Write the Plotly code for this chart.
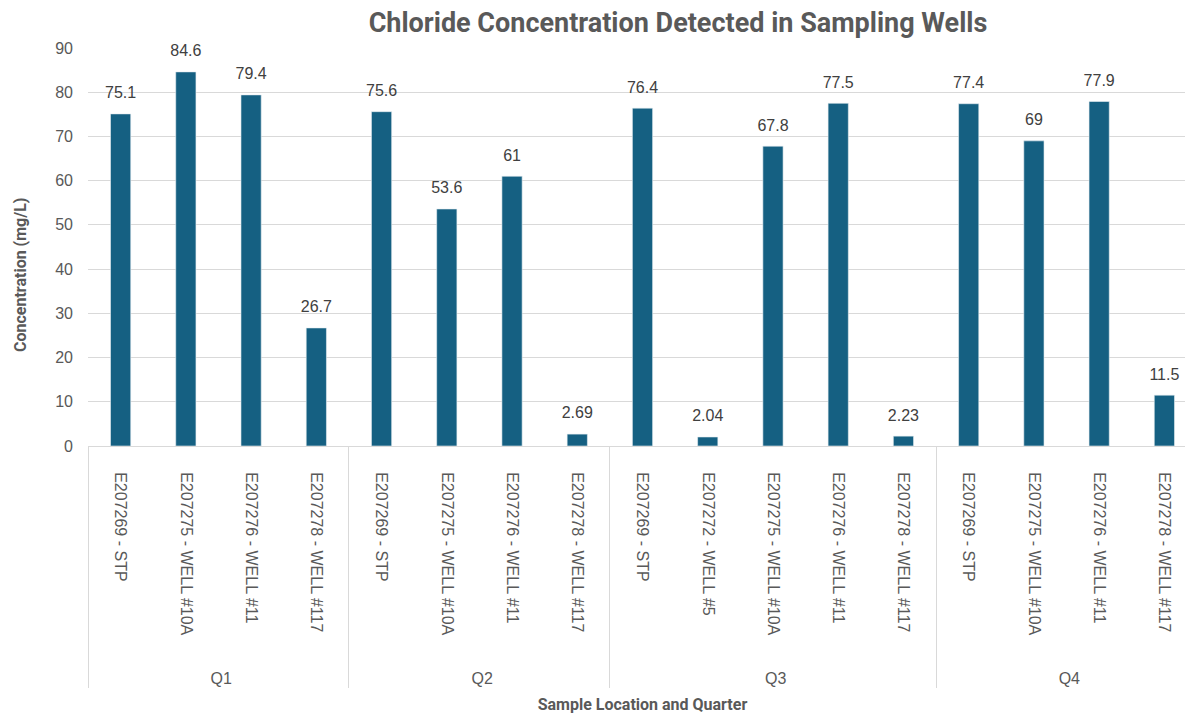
import plotly.graph_objects as go

quarters = ["Q1"] * 4 + ["Q2"] * 4 + ["Q3"] * 5 + ["Q4"] * 4
locations = [
    "E207269 - STP", "E207275 - WELL #10A", "E207276 - WELL #11", "E207278 - WELL #117",
    "E207269 - STP", "E207275 - WELL #10A", "E207276 - WELL #11", "E207278 - WELL #117",
    "E207269 - STP", "E207272 - WELL #5", "E207275 - WELL #10A", "E207276 - WELL #11", "E207278 - WELL #117",
    "E207269 - STP", "E207275 - WELL #10A", "E207276 - WELL #11", "E207278 - WELL #117",
]
values = [75.1, 84.6, 79.4, 26.7, 75.6, 53.6, 61, 2.69, 76.4, 2.04, 67.8, 77.5, 2.23, 77.4, 69, 77.9, 11.5]
labels = ["75.1", "84.6", "79.4", "26.7", "75.6", "53.6", "61", "2.69", "76.4", "2.04", "67.8", "77.5", "2.23", "77.4", "69", "77.9", "11.5"]

# Plotly orders multicategory inner labels by first appearance; feed the points
# in an order whose first appearances match the intended sequence.
order = [0, 4] + list(range(8, 13)) + [1, 2, 3, 5, 6, 7] + list(range(13, 17))
PAD = "\u00a0" * 9
xq = [quarters[i] for i in order]
xl = [locations[i] + PAD for i in order]
yv = [values[i] for i in order]
tv = [labels[i] for i in order]

fig = go.Figure()
fig.add_trace(go.Bar(
    x=[xq, xl],
    y=yv,
    marker=dict(color="#156082", line=dict(color="#E8EEF2", width=0.6)),
    hoverinfo="x+y",
))
fig.add_trace(go.Scatter(
    x=[xq, xl],
    y=yv,
    mode="markers+text",
    text=tv,
    textposition="top center",
    textfont=dict(size=16, color="#404040", family="Liberation Sans, Arial"),
    marker=dict(size=17, opacity=0),
    hoverinfo="skip",
    cliponaxis=False,
))

fig.update_layout(
    width=1193, height=717,
    margin=dict(l=80, r=4, t=40, b=279),
    paper_bgcolor="white", plot_bgcolor="white",
    bargap=0.69,
    showlegend=False,
    title=dict(
        text="<b>Chloride Concentration Detected in Sampling Wells</b>",
        x=0.5616, xref="container", xanchor="center",
        y=0.98, yref="container", yanchor="middle",
        font=dict(size=27, color="#595959", family="Roboto, Liberation Sans, Arial"),
    ),
    font=dict(family="Liberation Sans, Arial", color="#595959"),
    annotations=[dict(
        text="<b>Concentration (mg/L)</b>",
        xref="paper", yref="paper",
        x=(12 - 80) / 1109, y=(438 - 267) / 398,
        xanchor="center", yanchor="middle",
        textangle=-90, showarrow=False,
        font=dict(size=16, color="#595959", family="Roboto, Liberation Sans, Arial"),
    )],
)

fig.update_yaxes(
    range=[0, 90], dtick=10,
    automargin=False,
    showgrid=True, gridcolor="#D9D9D9", gridwidth=1,
    zeroline=True, zerolinecolor="#D9D9D9", zerolinewidth=1,
    showline=False, ticks="",
    ticklabelstandoff=14,
    tickfont=dict(size=16, color="#595959"),
)

fig.update_xaxes(
    type="multicategory",
    range=[-0.5, 16.5],
    automargin=False,
    tickangle=90,
    tickfont=dict(size=16, color="#595959"),
    ticklabelstandoff=22,
    showdividers=True, dividercolor="#D9D9D9", dividerwidth=1,
    showline=True, linecolor="#D9D9D9", linewidth=1,
    ticks="", showgrid=False,
    title=dict(text="<b>Sample Location and Quarter</b>", font=dict(size=16, color="#595959", family="Roboto, Liberation Sans, Arial"), standoff=12),
)

fig.write_html("out.html")
